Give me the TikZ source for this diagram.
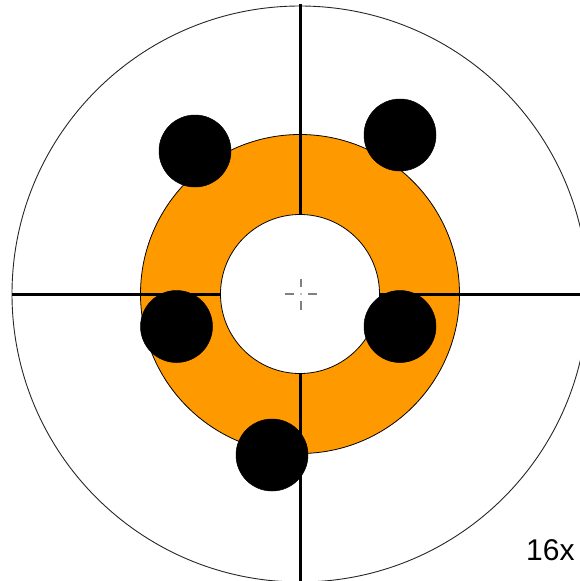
\documentclass[tikz,border=0pt]{standalone}
\usepackage{fontspec}
\setmainfont{Liberation Sans}
\definecolor{ringorange}{RGB}{255,153,0}
\begin{document}
\begin{tikzpicture}[x=1pt,y=-1pt,
  hair/.style={line width=3pt,black},
  dot/.style={circle,fill=black,draw=black,line width=0.5pt,minimum size=72pt,inner sep=0pt},
  fine/.style={gray,line width=1.4pt}]
\useasboundingbox (0,0) rectangle (580,581);
\clip (0,0) rectangle (580,581);
\coordinate (c) at (300,294);
\draw[line width=0.9pt,black!85] (c) circle[radius=288];
\fill[ringorange, even odd rule] (c) circle[radius=159.5] (c) circle[radius=79.5];
\draw[line width=0.8pt] (c) circle[radius=159.5];
\draw[line width=0.8pt,fill=white] (c) circle[radius=79.5];
\draw[hair] (300,4) -- (300,214.5);
\draw[hair] (300,373.5) -- (300,585);
\draw[hair] (12,294) -- (220.5,294);
\draw[hair] (379.5,294) -- (585,294);
\draw[fine] (285,294) -- (294,294) (308,294) -- (317,294)
            (301,279) -- (301,287) (301,301) -- (301,310);
\fill[gray] (301,294) circle[radius=0.9];
\node[dot] (d1) at (195,151) {};
\node[dot] (d2) at (400,135) {};
\node[dot] (d3) at (176.5,326.5) {};
\node[dot] (d4) at (400,326.5) {};
\node[dot] (d5) at (272,455) {};
\node[anchor=base west,inner sep=0pt,font=\fontsize{30}{30}\selectfont] (lbl) at (526,560) {16x};
\end{tikzpicture}
\end{document}
